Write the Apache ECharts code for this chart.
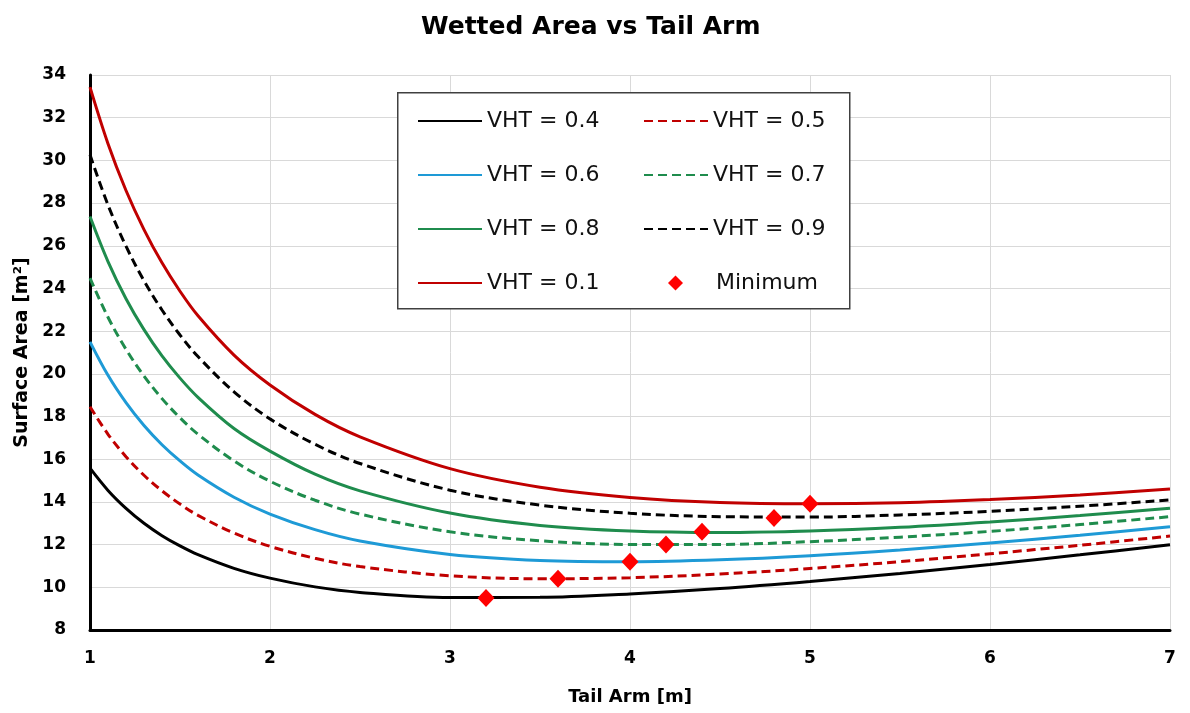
<!DOCTYPE html>
<html>
<head>
<meta charset="utf-8">
<script src="https://cdn.jsdelivr.net/npm/echarts@6/dist/echarts.min.js"></script>
<style>
  html, body { margin: 0; padding: 0; background: #ffffff; }
  #chart { width: 1190px; height: 713px; }
</style>
</head>
<body>
<div id="chart"></div>
<script>
// Tail arm positions [m]
const tailArm = [1, 1.1, 1.2, 1.3, 1.4, 1.5, 1.6, 1.8, 2, 2.25, 2.5, 3, 3.5, 4, 4.5, 5, 5.5, 6, 6.5, 7];

// Wetted surface area [m²] for each horizontal tail volume coefficient
const vht04 = [15.58, 14.54, 13.70, 13.00, 12.42, 11.94, 11.53, 10.89, 10.43, 10.02, 9.76, 9.52, 9.53, 9.69, 9.94, 10.27, 10.65, 11.07, 11.52, 11.99];
const vht05 = [18.46, 17.17, 16.12, 15.25, 14.52, 13.90, 13.37, 12.54, 11.92, 11.36, 10.97, 10.54, 10.40, 10.45, 10.62, 10.88, 11.20, 11.57, 11.97, 12.40];
const vht06 = [21.50, 19.93, 18.65, 17.58, 16.68, 15.92, 15.26, 14.22, 13.43, 12.70, 12.17, 11.54, 11.26, 11.20, 11.29, 11.48, 11.75, 12.08, 12.44, 12.84];
const vht07 = [24.48, 22.65, 21.15, 19.90, 18.84, 17.94, 17.17, 15.92, 14.97, 14.08, 13.43, 12.60, 12.18, 12.01, 12.01, 12.14, 12.35, 12.62, 12.94, 13.31];
const vht08 = [27.37, 25.26, 23.52, 22.07, 20.84, 19.80, 18.90, 17.44, 16.38, 15.30, 14.52, 13.48, 12.90, 12.64, 12.57, 12.64, 12.81, 13.06, 13.36, 13.70];
const vht09 = [30.26, 27.91, 25.98, 24.36, 22.99, 21.82, 20.81, 19.16, 17.89, 16.70, 15.80, 14.55, 13.85, 13.47, 13.31, 13.29, 13.39, 13.56, 13.80, 14.09];
const vht01 = [33.43, 30.78, 28.59, 26.76, 25.20, 23.87, 22.72, 20.88, 19.48, 18.10, 17.05, 15.56, 14.69, 14.21, 13.97, 13.91, 13.96, 14.11, 14.33, 14.60];

// Minimum area point of each curve
const minX = [3.2, 3.6, 4.0, 4.2, 4.4, 4.8, 5.0];
const minY = [9.5, 10.4, 11.2, 12.0, 12.6, 13.25, 13.92];

// Axis ranges
const xMin = 1, xMax = 7, xStep = 1;
const yMin = 8, yMax = 34, yStep = 2;

const FONT = 'DejaVu Sans';
const RED = '#C00000';
const BLUE = '#1E9AD6';
const GREEN = '#1F8C4D';

function curve(name, values, color, dashed) {
  return {
    name: name,
    type: 'line',
    data: tailArm.map((x, i) => [x, values[i]]),
    symbol: 'none',
    showSymbol: false,
    smooth: 0.35,
    z: 2,
    itemStyle: { color: color },
    lineStyle: { color: color, width: 3, type: dashed ? [9, 5] : 'solid' }
  };
}

const legendText = { fontFamily: FONT, fontSize: 22, lineHeight: 24, color: '#111' };
// line-only legend keys: the symbol part of the key is hidden
const lineKey = { opacity: 0 };

const chart = echarts.init(document.getElementById('chart'), null, { renderer: 'canvas' });
chart.setOption({
  animation: false,
  backgroundColor: '#ffffff',
  title: {
    text: 'Wetted Area vs Tail Arm',
    left: 416,
    top: 10,
    textStyle: { fontFamily: FONT, fontWeight: 'bold', fontSize: 25, color: '#000' }
  },
  grid: { left: 90, right: 20, top: 75, bottom: 83, containLabel: false },
  xAxis: {
    type: 'value',
    min: xMin, max: xMax, interval: xStep,
    name: 'Tail Arm [m]',
    nameLocation: 'middle',
    nameGap: 58,
    nameTextStyle: { fontFamily: FONT, fontWeight: 'bold', fontSize: 18, color: '#000' },
    axisLine: { show: true, onZero: false, lineStyle: { color: '#000', width: 3 } },
    axisTick: { show: false },
    axisLabel: { fontFamily: FONT, fontWeight: 'bold', fontSize: 17, color: '#000', margin: 20 },
    splitLine: { show: true, lineStyle: { color: '#d9d9d9', width: 1 } }
  },
  yAxis: {
    type: 'value',
    min: yMin, max: yMax, interval: yStep,
    name: 'Surface Area [m²]',
    nameLocation: 'middle',
    nameGap: 56,
    nameTextStyle: { fontFamily: FONT, fontWeight: 'bold', fontSize: 19, color: '#000' },
    axisLine: { show: true, onZero: false, lineStyle: { color: '#000', width: 3 } },
    axisTick: { show: false },
    axisLabel: { fontFamily: FONT, fontWeight: 'bold', fontSize: 17, color: '#000', margin: 24 },
    splitLine: { show: true, lineStyle: { color: '#d9d9d9', width: 1 } }
  },
  graphic: [{
    type: 'rect',
    left: 397, top: 92, z: 1,
    shape: { width: 452, height: 216 },
    style: { fill: '#ffffff', stroke: '#404040', lineWidth: 1.5 }
  }],
  legend: [
    {
      data: ['VHT = 0.4', 'VHT = 0.6', 'VHT = 0.8', 'VHT = 0.1'],
      orient: 'vertical', left: 417, top: 109, padding: 0,
      itemWidth: 64, itemHeight: 14, itemGap: 30,
      itemStyle: lineKey,
      textStyle: legendText
    },
    {
      data: ['VHT = 0.5', 'VHT = 0.7', 'VHT = 0.9'],
      orient: 'vertical', left: 643, top: 109, padding: 0,
      itemWidth: 64, itemHeight: 14, itemGap: 30,
      itemStyle: lineKey,
      textStyle: legendText
    },
    {
      data: [{ name: 'Minimum', icon: 'diamond' }],
      orient: 'vertical', left: 668, top: 271, padding: 0,
      itemWidth: 15, itemHeight: 15,
      textStyle: Object.assign({}, legendText, { padding: [0, 0, 0, 28] })
    }
  ],
  series: [
    curve('VHT = 0.4', vht04, '#000000', false),
    curve('VHT = 0.5', vht05, RED, true),
    curve('VHT = 0.6', vht06, BLUE, false),
    curve('VHT = 0.7', vht07, GREEN, true),
    curve('VHT = 0.8', vht08, GREEN, false),
    curve('VHT = 0.9', vht09, '#000000', true),
    curve('VHT = 0.1', vht01, RED, false),
    {
      name: 'Minimum',
      type: 'scatter',
      data: minX.map((x, i) => [x, minY[i]]),
      symbol: 'diamond',
      symbolSize: [17, 18],
      z: 5,
      itemStyle: { color: '#FF0000', opacity: 1 }
    }
  ]
});
</script>
</body>
</html>
